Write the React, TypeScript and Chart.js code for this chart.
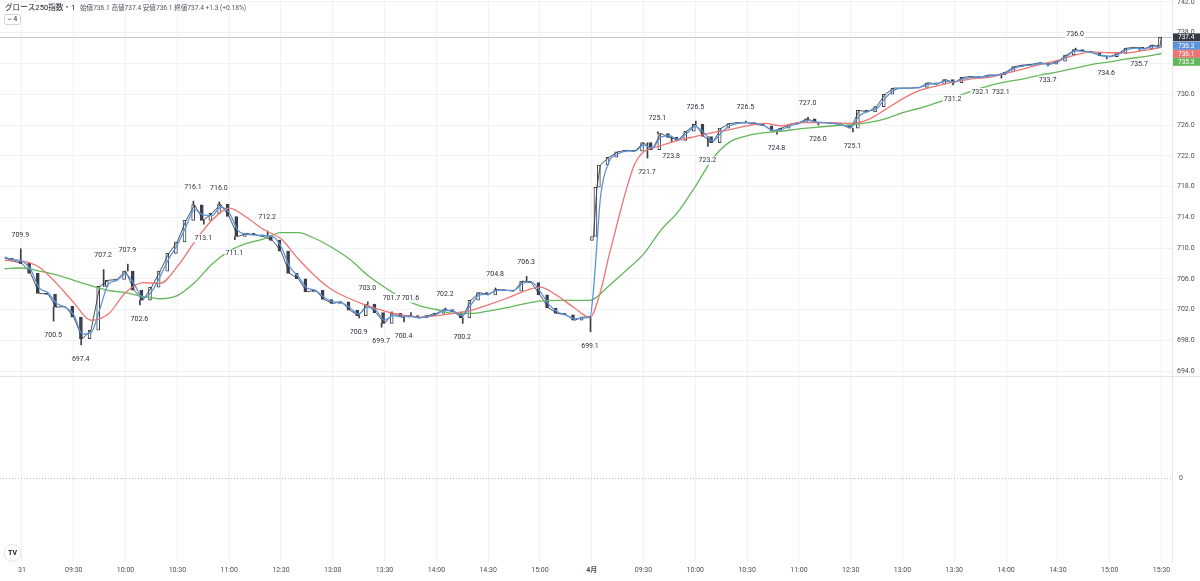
import React, { useEffect, useRef } from 'react';
import { Chart, registerables } from 'chart.js';
import type { Plugin } from 'chart.js';

Chart.register(...registerables);

// 終値（約5分ごとに読み取り）。分 = 3/31 09:00 からの取引分数
const priceMinutes = [
  -10, -5, 0, 5, 10, 15, 20, 25, 30, 35, 40, 45, 50, 55, 60, 65, 70, 75, 80, 85, 90, 95,
  100, 105, 110, 115, 120, 125, 130, 135, 140, 145, 150, 155, 160, 165, 170, 175, 180, 185,
  190, 195, 200, 205, 210, 215, 220, 225, 230, 235, 240, 245, 250, 255, 260, 265, 270, 275,
  280, 285, 290, 295, 300, 305, 310, 315, 320, 325, 329,
  331, 333, 335, 340, 345, 350, 355, 360, 365, 370, 375, 380, 385, 390, 395, 400, 405, 410,
  415, 420, 425, 430, 435, 440, 445, 450, 455, 460, 465, 470, 475, 480, 485, 490, 495, 500,
  505, 510, 515, 520, 525, 530, 535, 540, 545, 550, 555, 560, 565, 570, 575, 580, 585, 590,
  595, 600, 605, 610, 615, 620, 625, 630, 635, 640, 645, 650, 655, 659, 660,
];
const closes = [
  708.7, 708.3, 708.0, 706.7, 704.1, 704.0, 702.3, 702.4, 701.0, 698.2, 699.3, 705.0, 705.8,
  705.9, 707.0, 704.5, 703.2, 704.9, 707.0, 709.3, 710.8, 713.6, 715.6, 713.6, 714.5, 715.7,
  714.1, 711.5, 711.9, 711.7, 711.5, 711.0, 709.6, 706.7, 706.0, 704.3, 704.5, 703.3, 702.8,
  703.0, 701.9, 701.2, 702.7, 701.6, 700.2, 701.5, 701.0, 701.2, 700.9, 701.2, 701.5, 702.0,
  701.7, 700.9, 703.2, 704.2, 703.9, 704.6, 704.5, 704.4, 705.7, 705.5, 703.9, 702.2, 701.5,
  701.3, 700.6, 701.0, 701.1,
  711.5, 717.9, 720.8, 721.8, 722.5, 722.7, 722.6, 723.7, 722.8, 724.9, 724.4, 724.0, 725.2,
  726.1, 724.5, 723.7, 725.6, 726.2, 726.3, 726.3, 726.1, 725.9, 725.2, 725.6, 726.1, 726.3,
  726.8, 726.3, 726.3, 726.2, 726.0, 725.6, 727.9, 727.7, 728.4, 730.0, 730.8, 730.8, 730.8,
  730.9, 731.5, 731.3, 731.9, 731.5, 732.2, 732.3, 732.2, 732.5, 732.5, 732.9, 733.6, 733.8,
  733.9, 734.1, 733.9, 734.3, 735.1, 735.8, 735.6, 735.4, 735.0, 734.9, 735.3, 736.0, 736.1,
  735.9, 736.4, 736.1, 737.4,
];
const day2Open = 711.0;
const day2FirstMinute = 331;

// 短期移動平均（青）: priceMinutes と同じ時刻
const shortMa = [
  708.8, 708.5, 708.3, 707.2, 704.8, 704.2, 702.8, 702.3, 701.3, 698.8, 699.0, 702.0, 705.3,
  705.8, 706.6, 705.3, 703.5, 704.3, 706.3, 708.6, 710.4, 712.8, 715.0, 714.3, 714.2, 715.3,
  714.6, 712.3, 711.8, 711.7, 711.6, 711.5, 710.2, 707.6, 706.3, 704.8, 704.5, 703.6, 703.0,
  702.9, 702.2, 701.4, 702.3, 701.9, 700.6, 701.2, 701.1, 701.1, 700.9, 701.1, 701.4, 701.9,
  701.8, 701.2, 702.6, 703.9, 704.0, 704.5, 704.5, 704.5, 705.4, 705.6, 704.4, 702.7, 701.7,
  701.3, 700.8, 700.9, 701.0,
  704.5, 710.5, 716.5, 721.2, 722.2, 722.6, 722.6, 723.4, 723.0, 724.4, 724.6, 724.1, 724.9,
  725.8, 725.0, 723.9, 725.0, 725.9, 726.2, 726.3, 726.2, 725.9, 725.3, 725.4, 725.9, 726.2,
  726.6, 726.4, 726.3, 726.2, 726.0, 725.7, 727.2, 727.8, 728.1, 729.5, 730.5, 730.8, 730.8,
  730.9, 731.3, 731.4, 731.7, 731.6, 732.0, 732.2, 732.2, 732.4, 732.5, 732.8, 733.4, 733.7,
  733.8, 734.0, 733.9, 734.2, 734.9, 735.6, 735.6, 735.4, 735.1, 734.9, 735.2, 735.8, 736.0,
  735.9, 736.2, 736.2, 736.3,
];

// 中期移動平均（赤）
const midMaMinutes = [
  -10, 0, 10, 20, 30, 40, 50, 60, 70, 80, 90, 100, 110, 120, 130, 140, 150, 160, 170, 180,
  190, 200, 210, 220, 230, 240, 250, 260, 270, 280, 290, 300, 310, 320, 329,
  335, 340, 345, 350, 355, 360, 370, 380, 390, 400, 410, 420, 430, 440, 450, 460, 470, 480,
  490, 500, 510, 520, 530, 540, 550, 560, 570, 580, 590, 600, 610, 620, 630, 640, 650, 660,
];
const midMa = [
  708.4, 708.3, 707.5, 705.4, 702.9, 700.6, 701.4, 704.2, 705.5, 705.4, 707.6, 710.8, 713.6,
  715.2, 714.0, 712.4, 711.2, 708.6, 706.3, 704.5, 703.4, 702.5, 701.8, 701.3, 701.0, 701.2,
  701.5, 701.9, 702.6, 703.4, 704.3, 704.9, 703.8, 702.2, 701.0,
  704.3, 709.0, 713.4, 717.6, 721.0, 722.5, 723.3, 724.0, 724.5, 725.0, 725.4, 725.9, 726.2,
  725.9, 726.3, 726.3, 726.3, 726.2, 726.7, 728.0, 729.4, 730.5, 731.1, 731.6, 732.0, 732.2,
  732.7, 733.3, 733.9, 734.4, 735.1, 735.5, 735.4, 735.4, 735.7, 736.1,
];

// 長期移動平均（緑）
const longMaMinutes = [
  -10, 0, 10, 20, 30, 40, 50, 60, 70, 80, 90, 100, 110, 120, 130, 140, 150, 160, 170, 180,
  190, 200, 210, 220, 230, 240, 250, 260, 270, 280, 290, 300, 310, 320, 329,
  340, 350, 360, 370, 380, 390, 400, 410, 420, 430, 440, 450, 460, 470, 480, 490, 500, 510,
  520, 530, 540, 550, 560, 570, 580, 590, 600, 610, 620, 630, 640, 650, 660,
];
const longMa = [
  707.3, 707.4, 707.0, 706.5, 705.8, 705.1, 704.5, 704.2, 703.7, 703.4, 703.8, 705.5, 707.9,
  709.6, 710.6, 711.2, 712.0, 712.0, 711.2, 710.0, 708.5, 706.5, 704.9, 703.5, 702.5, 702.0,
  701.5, 701.5, 701.8, 702.2, 702.7, 703.1, 703.2, 703.2, 703.2,
  705.1, 707.1, 709.2, 712.3, 714.7, 718.0, 721.6, 723.8, 724.6, 725.0, 725.2, 725.5, 725.7,
  725.9, 726.0, 726.3, 726.8, 727.6, 728.2, 728.9, 729.6, 730.4, 731.1, 731.6, 732.0, 732.5,
  732.9, 733.4, 733.9, 734.2, 734.6, 734.9, 735.3,
];

// 高値・安値ラベル
const markMinutes = [
  -1, 18, 34, 47, 61, 68, 99, 105, 114, 123, 142, 195, 200, 208, 214, 221, 225, 245, 255,
  274, 292, 329, 362, 368, 376, 390, 397, 419, 437, 455, 461, 481, 539, 555, 567, 594, 610,
  628, 647,
];
const markValues = [
  709.9, 700.5, 697.4, 707.2, 707.9, 702.6, 716.1, 713.1, 716.0, 711.1, 712.2, 700.9, 703.0,
  699.7, 701.7, 700.4, 701.6, 702.2, 700.2, 704.8, 706.3, 699.1, 721.7, 725.1, 723.8, 726.5,
  723.2, 726.5, 724.8, 727.0, 726.0, 725.1, 731.2, 732.1, 732.1, 733.7, 736.0, 734.6, 735.7,
];
const markIsHigh = [
  1, 0, 0, 1, 1, 0, 1, 0, 1, 0, 1, 0, 1, 0, 1, 0, 1, 1, 0, 1, 1, 0, 0, 1, 0, 1, 0, 1, 0, 1,
  0, 0, 0, 0, 0, 0, 1, 0, 0,
];

// 時間軸
const timeTickMinutes = [
  0, 30, 60, 90, 120, 150, 180, 210, 240, 270, 300, 330, 360, 390, 420, 450, 480, 510, 540,
  570, 600, 630, 660,
];
const timeTickLabels = [
  '31', '09:30', '10:00', '10:30', '11:00', '12:30', '13:00', '13:30', '14:00', '14:30',
  '15:00', '4月', '09:30', '10:00', '10:30', '11:00', '12:30', '13:00', '13:30', '14:00',
  '14:30', '15:00', '15:30',
];

const title = 'グロース250指数・1';
const ohlcText = '始値736.1 高値737.4 安値736.1 終値737.4 +1.3 (+0.18%)';

const FONT = 'Roboto, "Noto Sans CJK JP", sans-serif';
const INK = '#3a3e48';
const BLUE = '#5b93db';
const RED = '#ee7373';
const GREEN = '#63b75a';

const nearestClose = (m: number) => {
  let best = 0;
  priceMinutes.forEach((pm, i) => {
    if (Math.abs(pm - m) < Math.abs(priceMinutes[best] - m)) best = i;
  });
  return closes[best];
};

// 軸ラベル分の余白を消してプロット領域を画面いっぱいに
const noPad = (s: any) => {
  s.paddingTop = 0;
  s.paddingBottom = 0;
  s.paddingLeft = 0;
  s.paddingRight = 0;
};

const overlayPlugin: Plugin = {
  id: 'overlay',
  beforeDatasetsDraw(chart) {
    const { ctx, chartArea } = chart;
    const y = chart.scales.y;
    const last = closes[closes.length - 1];
    const py = Math.round(y.getPixelForValue(last)) + 0.5;
    ctx.save();
    ctx.strokeStyle = '#c3c5cc';
    ctx.lineWidth = 1;
    ctx.beginPath();
    ctx.moveTo(chartArea.left, py);
    ctx.lineTo(chartArea.right, py);
    ctx.stroke();
    ctx.restore();
  },
  afterDatasetsDraw(chart) {
    const { ctx } = chart;
    const x = chart.scales.x;
    const y = chart.scales.y;
    ctx.save();
    ctx.font = `7px ${FONT}`;
    ctx.textAlign = 'center';
    ctx.textBaseline = 'middle';
    markMinutes.forEach((m, i) => {
      const px = x.getPixelForValue(m);
      const py = y.getPixelForValue(markValues[i]) + (markIsHigh[i] ? -14 : 14);
      const t = markValues[i].toFixed(1);
      const w = ctx.measureText(t).width;
      ctx.fillStyle = '#ffffff';
      ctx.fillRect(px - w / 2 - 1, py - 4, w + 2, 8);
      ctx.fillStyle = '#2a2e39';
      ctx.fillText(t, px, py);
    });
    ctx.restore();
  },
  afterDraw(chart) {
    const { ctx, chartArea } = chart;
    const y = chart.scales.y;
    const y2 = chart.scales.y2;
    ctx.save();

    // ペイン境界
    ctx.strokeStyle = '#e0e3eb';
    ctx.lineWidth = 1;
    ctx.beginPath();
    ctx.moveTo(0, Math.round(y2.top) + 0.5);
    ctx.lineTo(chart.width, Math.round(y2.top) + 0.5);
    ctx.stroke();

    // 右端の価格ラベル
    const tags = [
      { v: closes[closes.length - 1], c: '#363a45' },
      { v: shortMa[shortMa.length - 1], c: BLUE },
      { v: midMa[midMa.length - 1], c: RED },
      { v: longMa[longMa.length - 1], c: GREEN },
    ];
    let prev = -Infinity;
    ctx.font = `6.5px ${FONT}`;
    ctx.textAlign = 'left';
    ctx.textBaseline = 'middle';
    tags.forEach((t) => {
      let py = y.getPixelForValue(t.v);
      if (py < prev + 8) py = prev + 8;
      prev = py;
      ctx.fillStyle = t.c;
      ctx.fillRect(chartArea.right + 1, py - 4, chart.width - chartArea.right - 1, 8);
      ctx.fillStyle = '#ffffff';
      ctx.fillText(t.v.toFixed(1), chartArea.right + 6, py + 0.5);
    });

    // ヘッダー
    ctx.textAlign = 'left';
    ctx.fillStyle = '#131722';
    ctx.font = `7.6px ${FONT}`;
    ctx.fillText(title, 5, 8);
    ctx.fillStyle = '#50535e';
    ctx.font = `6.6px ${FONT}`;
    ctx.fillText(ohlcText, 80, 8);

    ctx.strokeStyle = '#d1d4dc';
    ctx.beginPath();
    ctx.roundRect(4.5, 14.5, 16, 10, 2);
    ctx.stroke();
    ctx.strokeStyle = '#50535e';
    ctx.beginPath();
    ctx.moveTo(8, 18.5);
    ctx.lineTo(9.5, 20);
    ctx.lineTo(11, 18.5);
    ctx.stroke();
    ctx.fillStyle = '#131722';
    ctx.font = `6.5px ${FONT}`;
    ctx.fillText('4', 13.5, 19.5);

    // ロゴ
    ctx.fillStyle = '#ffffff';
    ctx.strokeStyle = '#e0e3eb';
    ctx.beginPath();
    ctx.arc(12.5, 553, 8.5, 0, Math.PI * 2);
    ctx.fill();
    ctx.stroke();
    ctx.fillStyle = '#131722';
    ctx.font = `bold 7px ${FONT}`;
    ctx.textAlign = 'center';
    ctx.fillText('TV', 12.5, 553.5);
    ctx.restore();
  },
};

const App: React.FC = () => {
  const canvasRef = useRef<HTMLCanvasElement>(null);
  const chartInstance = useRef<Chart | null>(null);

  useEffect(() => {
    document.body.style.margin = '0';
    if (!canvasRef.current) return;
    const ctx = canvasRef.current.getContext('2d');
    if (!ctx) return;

    const bodies = priceMinutes.map((m, i) => {
      const open = m === day2FirstMinute ? day2Open : closes[Math.max(0, i - 1)];
      return { x: m, y: [open, closes[i]] };
    });
    const closeLine: { x: number; y: number | null }[] = [];
    priceMinutes.forEach((m, i) => {
      if (m === day2FirstMinute) closeLine.push({ x: m - 1, y: null });
      closeLine.push({ x: m, y: closes[i] });
    });
    const wicks = markMinutes.map((m, i) => ({ x: m, y: [markValues[i], nearestClose(m)] }));

    chartInstance.current = new Chart(ctx, {
      type: 'bar',
      data: {
        datasets: [
          {
            type: 'line',
            data: priceMinutes.map((m, i) => ({ x: m, y: shortMa[i] })),
            borderColor: BLUE,
            borderWidth: 1.3,
            pointRadius: 0,
            cubicInterpolationMode: 'monotone',
            order: 0,
          },
          {
            type: 'line',
            data: midMaMinutes.map((m, i) => ({ x: m, y: midMa[i] })),
            borderColor: RED,
            borderWidth: 1.3,
            pointRadius: 0,
            cubicInterpolationMode: 'monotone',
            order: 1,
          },
          {
            type: 'line',
            data: longMaMinutes.map((m, i) => ({ x: m, y: longMa[i] })),
            borderColor: GREEN,
            borderWidth: 1.3,
            pointRadius: 0,
            cubicInterpolationMode: 'monotone',
            order: 2,
          },
          {
            type: 'line',
            data: closeLine,
            borderColor: INK,
            borderWidth: 0.9,
            pointRadius: 0,
            spanGaps: false,
            order: 3,
          },
          {
            type: 'bar',
            data: bodies as any,
            backgroundColor: (c: any) => {
              const r = c.raw as { y: number[] } | undefined;
              return r && r.y[1] >= r.y[0] ? '#ffffff' : INK;
            },
            borderColor: INK,
            borderWidth: 1,
            borderSkipped: false,
            barThickness: 3,
            order: 4,
          },
          {
            type: 'bar',
            data: wicks as any,
            backgroundColor: INK,
            barThickness: 1,
            order: 5,
          },
        ],
      },
      options: {
        animation: false,
        responsive: true,
        maintainAspectRatio: false,
        events: [],
        layout: { padding: 0 },
        plugins: { legend: { display: false }, tooltip: { enabled: false } },
        scales: {
          x: {
            type: 'linear',
            position: 'bottom',
            offset: false,
            min: -12.74,
            max: 666.1,
            afterBuildTicks: (s) => {
              s.ticks = timeTickMinutes.map((v) => ({ value: v }));
            },
            afterFit: (s) => {
              s.height = 19;
              noPad(s);
            },
            ticks: {
              autoSkip: false,
              maxRotation: 0,
              padding: 4,
              color: '#4a4d57',
              font: (c: any) => ({
                family: FONT,
                size: 7,
                weight: c.tick && c.tick.value === 330 ? 'bold' : 'normal',
              }),
              callback: (v) => timeTickLabels[timeTickMinutes.indexOf(Number(v))] ?? '',
            },
            grid: { color: '#f1f2f5', drawTicks: false, offset: false },
            border: { display: false },
          },
          y: {
            type: 'linear',
            position: 'right',
            stack: 'pane',
            stackWeight: 376,
            min: 693.35,
            max: 742.26,
            afterFit: (s) => {
              s.width = 28;
              noPad(s);
            },
            ticks: {
              stepSize: 2,
              includeBounds: false,
              padding: 5,
              color: '#4a4d57',
              font: { family: FONT, size: 7 },
              callback: (v) => Number(v).toFixed(1),
            },
            grid: { color: '#f1f2f5', drawTicks: false },
            border: { color: '#e6e8ee' },
          },
          y2: {
            type: 'linear',
            position: 'right',
            stack: 'pane',
            stackWeight: 186,
            min: -0.815,
            max: 1,
            afterBuildTicks: (s) => {
              s.ticks = [{ value: 0 }];
            },
            afterFit: (s) => {
              s.width = 28;
              noPad(s);
            },
            ticks: {
              padding: 7,
              color: '#4a4d57',
              font: { family: FONT, size: 7 },
              callback: () => '0',
            },
            grid: { color: '#b9c3d3', drawTicks: false },
            border: { color: '#e6e8ee', dash: [1, 2] },
          },
        },
      },
      plugins: [overlayPlugin],
    });

    return () => {
      if (chartInstance.current) {
        chartInstance.current.destroy();
        chartInstance.current = null;
      }
    };
  }, []);

  return (
    <div style={{ width: 1200, height: 581, position: 'relative' }}>
      <canvas ref={canvasRef}></canvas>
    </div>
  );
};

export default App;
